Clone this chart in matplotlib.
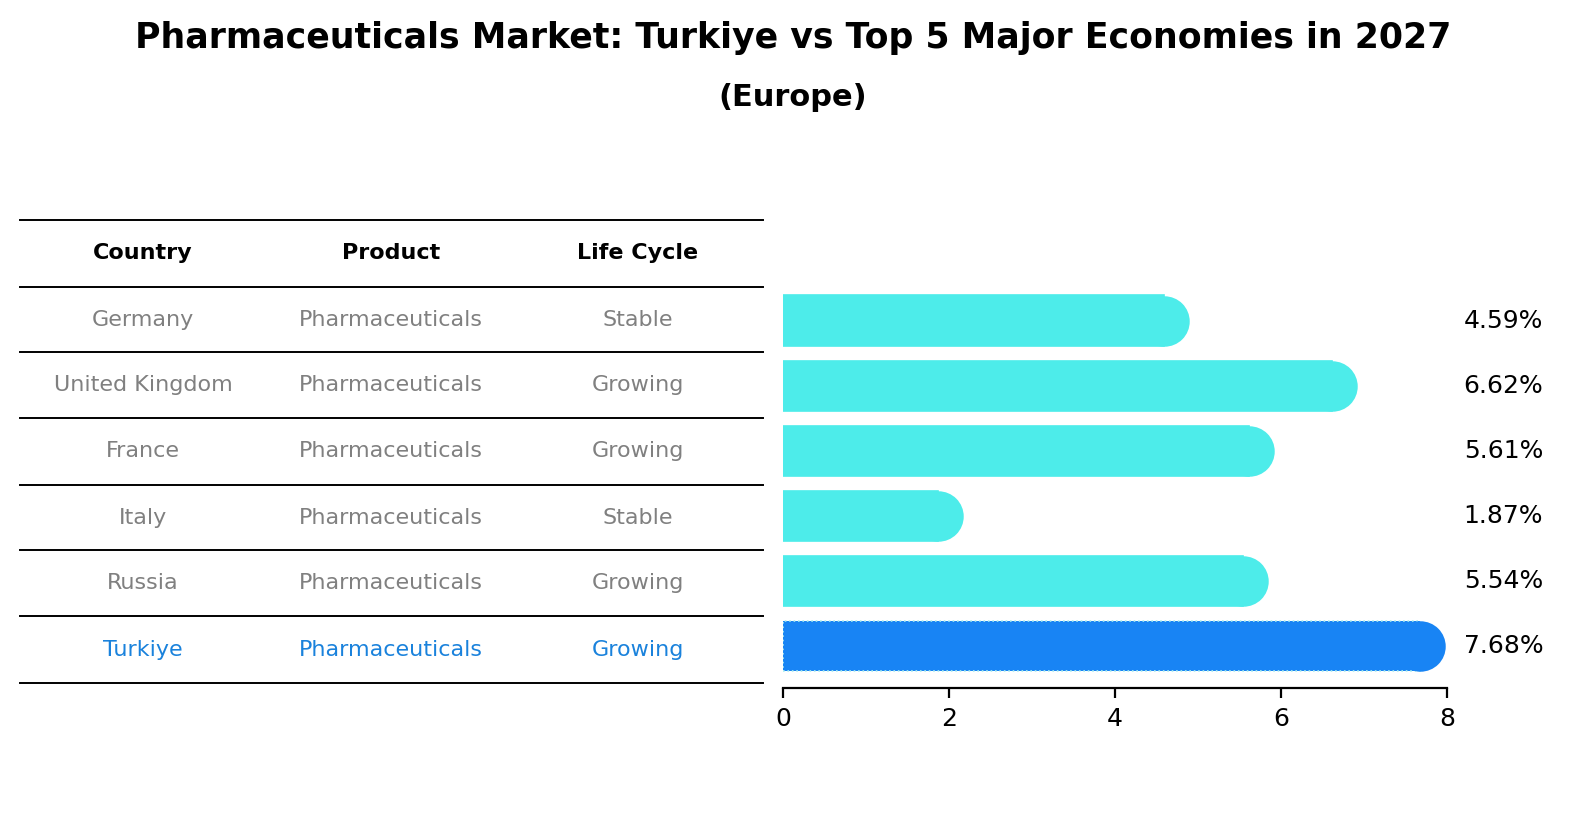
import matplotlib.pyplot as plt
from matplotlib.lines import Line2D

countries = ['Germany', 'United Kingdom', 'France', 'Italy', 'Russia', 'Turkiye']
products = ['Pharmaceuticals'] * 6
life_cycle = ['Stable', 'Growing', 'Growing', 'Stable', 'Growing', 'Growing']
growth = [4.59, 6.62, 5.61, 1.87, 5.54, 7.68]
headers = ['Country', 'Product', 'Life Cycle']

W, H = 1586, 823
fig = plt.figure(figsize=(W / 200, H / 200), dpi=200)

fig.text(0.5, 1 - 38 / H, 'Pharmaceuticals Market: Turkiye vs Top 5 Major Economies in 2027',
         ha='center', va='center', fontsize=12.5, fontweight='bold')
fig.text(0.5, 1 - 98 / H, '(Europe)', ha='center', va='center', fontsize=11, fontweight='bold')

# table drawn in figure coordinates
line_y = [220, 287, 352, 418, 485, 550, 616, 683]
col_x = [143, 391, 638]
for y in line_y:
    fig.add_artist(Line2D([20 / W, 763 / W], [1 - y / H, 1 - y / H], color='black', lw=0.7))
for c, h in zip(col_x, headers):
    fig.text(c / W, 1 - 253 / H, h, ha='center', va='center', fontsize=8, fontweight='bold')
for i, row in enumerate(zip(countries, products, life_cycle)):
    yc = (line_y[i + 1] + line_y[i + 2]) / 2
    color = '#1a82dc' if row[0] == 'Turkiye' else '#808080'
    for c, t in zip(col_x, row):
        fig.text(c / W, 1 - yc / H, t, ha='center', va='center', fontsize=8, color=color)

ax = fig.add_axes([783 / W, (H - 688) / H, (1447 - 783) / W, 400 / H])
ypos = list(range(len(countries)))[::-1]
for y, v, c in zip(ypos, growth, countries):
    col = '#1884f4' if c == 'Turkiye' else '#4decea'
    ls = ':' if c == 'Turkiye' else '-'
    ax.barh(y, v, height=0.77, color=col, edgecolor='#aee' if c == 'Turkiye' else col,
            linestyle=ls, lw=0.6)
    ax.scatter([v], [y], s=330, color=col, zorder=3, linewidths=0)
    ax.text(1.085, y, f'{v:.2f}%', transform=ax.get_yaxis_transform(),
            ha='center', va='center', fontsize=9)
ax.set_xlim(0, 8)
ax.set_ylim(-0.65, 5.5)
ax.set_xticks([0, 2, 4, 6, 8])
ax.set_yticks([])
for s in ['top', 'right', 'left']:
    ax.spines[s].set_visible(False)
ax.spines['bottom'].set_linewidth(0.8)
ax.tick_params(axis='x', labelsize=9, width=0.8)

fig.savefig('out.png', dpi=200)
